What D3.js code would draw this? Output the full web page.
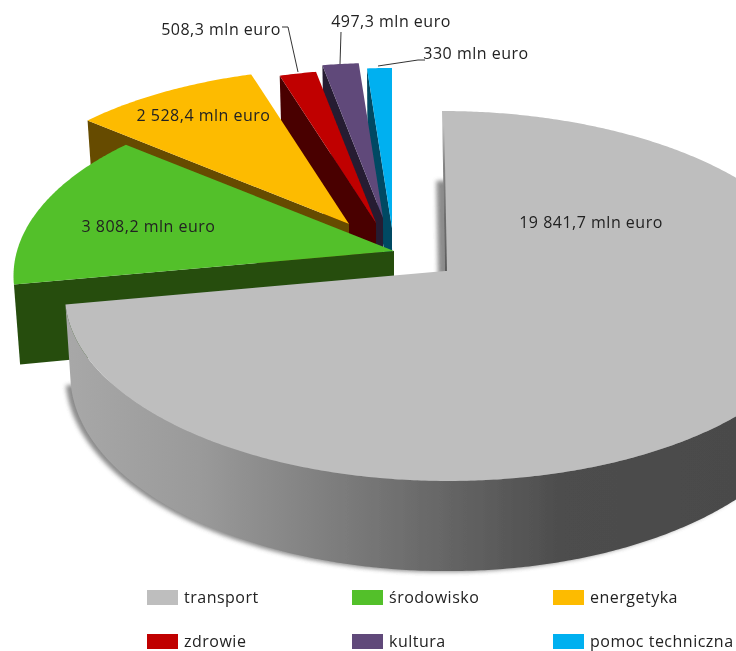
<!DOCTYPE html>
<html><head><meta charset="utf-8">
<script src="https://cdn.jsdelivr.net/npm/d3@7/dist/d3.min.js"></script>
<style>html,body{margin:0;padding:0;background:#fff;overflow:hidden}svg{display:block}text{font-family:"Open Sans",sans-serif;fill:#222;letter-spacing:.5px}</style>
</head><body>
<script>
// data
const categories = ["transport","środowisko","energetyka","zdrowie","kultura","pomoc techniczna"];
const values = [19841.7,3808.2,2528.4,508.3,497.3,330];
const valueLabels = ["19 841,7 mln euro","3 808,2 mln euro","2 528,4 mln euro","508,3 mln euro","497,3 mln euro","330 mln euro"];
const topColors = ["#bebebe","#53c02a","#fdbb00","#c00000","#60497a","#00b0f0"];
const wallColors = ["#808080","#254d10","#664b00","#4a0000","#261d33","#004a63"];

// layout
const W=736,H=651, R=377, K=181.6, P=0.135, DEPTH=78, VX=400, TAPER=0.016;
const apexX=[445,394,349,376,383,392], apexY=[271,251,224,223,218,228], skew=[3,0,0,0,0,0];
const sliceScale=[1,1,0.975,0.96,0.97,1];
const labelX=[591,148.5,203.5,221,391,476], labelY=[228,232,121,35,27,59];
const leaders=[null,null,null,[[282,27],[288,27],[298,72]],[[341,32],[340,64]],[[378,66],[418,60],[425,60]]];
const legendX=[147,352,553,147,352,553], legendY=[590,590,590,634,634,634];

const svg=d3.select("body").append("svg").attr("width",W).attr("height",H).attr("viewBox",[0,0,W,H]);
const defs=svg.append("defs");
defs.append("filter").attr("id","soft").attr("x","-2%").attr("y","-2%").attr("width","104%").attr("height","104%")
  .append("feGaussianBlur").attr("stdDeviation",0.45);
defs.append("filter").attr("id","shadow").attr("x","-5%").attr("y","-5%").attr("width","110%").attr("height","110%")
  .append("feGaussianBlur").attr("stdDeviation",2.2);
const grad=defs.append("linearGradient").attr("id","wallGrad").attr("gradientUnits","userSpaceOnUse")
  .attr("x1",65).attr("x2",736).attr("y1",0).attr("y2",0);
[[0,"#a8a8a8"],[0.2,"#9a9a9a"],[0.41,"#7c7c7c"],[0.74,"#4d4d4d"],[1,"#4a4a4a"]]
  .forEach(s=>grad.append("stop").attr("offset",s[0]).attr("stop-color",s[1]));
const edgeGrad=defs.append("linearGradient").attr("id","edgeGrad").attr("gradientUnits","userSpaceOnUse")
  .attr("x1",0).attr("x2",0).attr("y1",125).attr("y2",270);
[[0,0],[0.3,0.5],[1,0.8]].forEach(s=>edgeGrad.append("stop").attr("offset",s[0]).attr("stop-color","#444").attr("stop-opacity",s[1]));

const root=svg.append("g").attr("filter","url(#soft)");
const line=d3.line();
const arcs=d3.pie().sort(null).value(d=>d)(values);

function rim(i,t){
  const u=Math.sin(t), v=-Math.cos(t), w=1/(1-P*v), s=sliceScale[i];
  return {x:apexX[i]+s*R*u*w+skew[i]*v, y:apexY[i]+s*K*v*w, w};
}
function drop(p){ return [p.x+(VX-p.x)*TAPER, p.y+DEPTH*(p.w||1)]; }
function angles(a,b){ return d3.range(a,b,Math.PI/360).concat([b]); }
const apex=i=>({x:apexX[i],y:apexY[i],w:1});

// transport ground shadow
const t0=arcs[0];
const shadowPts=[drop(apex(0))].concat(angles(t0.startAngle,t0.endAngle).map(t=>drop(rim(0,t))));
root.append("path").attr("d",line(shadowPts)+"Z").attr("transform","translate(-5,1)")
  .attr("fill","#666").attr("opacity",0.75).attr("filter","url(#shadow)");

// exploded slices, back to front
d3.range(arcs.length-1,-1,-1).forEach(i=>{
  const a=arcs[i], g=root.append("g");
  if(i>0){
    const s=rim(i,a.startAngle);
    g.append("path").attr("d",line([[s.x,s.y],[apexX[i],apexY[i]],drop(apex(i)),drop(s)])+"Z").attr("fill",wallColors[i]);
  }else{
    const ts=angles(Math.PI/3,a.endAngle);
    const pts=ts.map(t=>{const p=rim(i,t);return [p.x,p.y];}).concat(ts.slice().reverse().map(t=>drop(rim(i,t))));
    g.append("path").attr("d",line(pts)+"Z").attr("fill","url(#wallGrad)");
  }
  const top=[[apexX[i],apexY[i]]].concat(angles(a.startAngle,a.endAngle).map(t=>{const p=rim(i,t);return [p.x,p.y];}));
  g.append("path").attr("d",line(top)+"Z").attr("fill",topColors[i]);
  if(i===0){
    const s=rim(i,a.startAngle);
    g.append("line").attr("x1",s.x+1).attr("y1",s.y).attr("x2",apexX[i]+1).attr("y2",apexY[i])
      .attr("stroke","url(#edgeGrad)").attr("stroke-width",2);
  }
});

// leader lines and value labels
leaders.forEach(l=>{ if(l) root.append("path").attr("d",line(l)).attr("fill","none").attr("stroke","#333").attr("stroke-width",1); });
root.selectAll(".lab").data(valueLabels).join("text").attr("class","lab")
  .attr("x",(d,i)=>labelX[i]).attr("y",(d,i)=>labelY[i]).attr("text-anchor","middle").attr("font-size",16).text(d=>d);

// legend
const leg=root.selectAll(".leg").data(categories).join("g").attr("class","leg");
leg.append("rect").attr("x",(d,i)=>legendX[i]).attr("y",(d,i)=>legendY[i]).attr("width",31).attr("height",15).attr("fill",(d,i)=>topColors[i]);
leg.append("text").attr("x",(d,i)=>legendX[i]+37).attr("y",(d,i)=>legendY[i]+13).attr("font-size",16).text(d=>d);
</script>
</body></html>
